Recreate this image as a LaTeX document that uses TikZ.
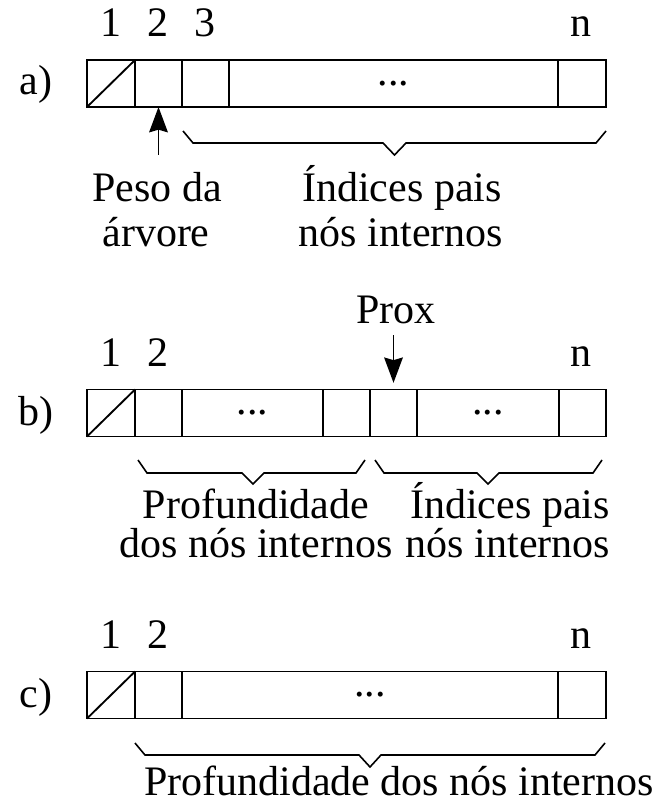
\documentclass[tikz,border=0pt]{standalone}
\usepackage{fontspec}
\setmainfont{Liberation Serif}
\usetikzlibrary{arrows.meta}
\begin{document}
\begin{tikzpicture}[x=0.75pt,y=-0.75pt,
  cell/.style={draw,line width=1.4pt,inner sep=0pt,outer sep=0pt,minimum height=35.25pt,anchor=west,font=\fontsize{31.5}{36}\selectfont},
  cw/.style={minimum width=#1*0.75pt},
  lbl/.style={anchor=base,inner sep=0pt,font=\fontsize{31.5}{36}\selectfont},
  brace/.style={line width=1.2pt,line join=miter},
  arr/.style={line width=1.3pt,-{Stealth[length=19pt,width=14pt,inset=2pt]}}]
\useasboundingbox (0,0) rectangle (654,805);

% ---------- a) ----------
\node[cell,cw=48] (a1) at (87,83.5) {};
\node[cell,cw=47] (a2) at (a1.east) {};
\node[cell,cw=47] (a3) at (a2.east) {};
\node[cell,cw=329] (a4) at (a3.east) {...};
\node[cell,cw=48] (a5) at (a4.east) {};
\draw[line width=1.4pt] (a1.south west) -- (a1.north east);
\node[lbl] (la) at (36,95) {a)};
\node[lbl] (a1n) at (111,37) {1};
\node[lbl] (a2n) at (158,37) {2};
\node[lbl] (a3n) at (205,37) {3};
\node[lbl] (ann) at (581,37) {n};
\coordinate (pa) at (158.5,155);
\draw[arr] (pa) -- (a2.south);
\draw[brace] (183,131) -- (193,143) -- (383,143) -- (394.5,155) -- (406,143) -- (596,143) -- (606,131);
\node[lbl] (peso1) at (157,202) {Peso da};
\node[lbl] (peso2) at (156,247) {árvore};
\node[lbl] (ind1) at (402,202) {Índices pais};
\node[lbl] (ind2) at (401,247) {nós internos};

% ---------- b) ----------
\node[cell,cw=48] (b1) at (87,413) {};
\node[cell,cw=47] (b2) at (b1.east) {};
\node[cell,cw=141] (b3) at (b2.east) {...};
\node[cell,cw=47] (b4) at (b3.east) {};
\node[cell,cw=47] (b5) at (b4.east) {};
\node[cell,cw=142] (b6) at (b5.east) {...};
\node[cell,cw=47] (b7) at (b6.east) {};
\draw[line width=1.4pt] (b1.south west) -- (b1.north east);
\node[lbl] (lb) at (36,425) {b)};
\node[lbl] (b1n) at (111,366) {1};
\node[lbl] (b2n) at (158,366) {2};
\node[lbl] (bnn) at (581,366) {n};
\node[lbl] (prox) at (396,323) {Prox};
\coordinate (pb) at (393.5,335);
\draw[arr,shorten >=5pt] (pb) -- (b5.north);
\draw[brace] (138,460) -- (147,473) -- (242,473) -- (253,484) -- (264,473) -- (356,473) -- (365,460);
\draw[brace] (375,460) -- (384,473) -- (477,473) -- (488,484) -- (499,473) -- (593,473) -- (602,460);
\node[lbl] (pf1) at (256,518) {Profundidade};
\node[lbl] (pf2) at (256,557) {dos nós internos};
\node[lbl] (ib1) at (510,518) {Índices pais};
\node[lbl] (ib2) at (508,557) {nós internos};

% ---------- c) ----------
\node[cell,cw=48] (c1) at (87,695) {};
\node[cell,cw=47] (c2) at (c1.east) {};
\node[cell,cw=376] (c3) at (c2.east) {...};
\node[cell,cw=48] (c4) at (c3.east) {};
\draw[line width=1.4pt] (c1.south west) -- (c1.north east);
\node[lbl] (lc) at (36,707) {c)};
\node[lbl] (c1n) at (111,648) {1};
\node[lbl] (c2n) at (158,648) {2};
\node[lbl] (cnn) at (581,648) {n};
\draw[brace] (135,743) -- (145,755) -- (359,755) -- (370,767) -- (381,755) -- (595,755) -- (605,743);
\node[lbl] (pfc) at (399,795) {Profundidade dos nós internos};
\end{tikzpicture}
\end{document}
